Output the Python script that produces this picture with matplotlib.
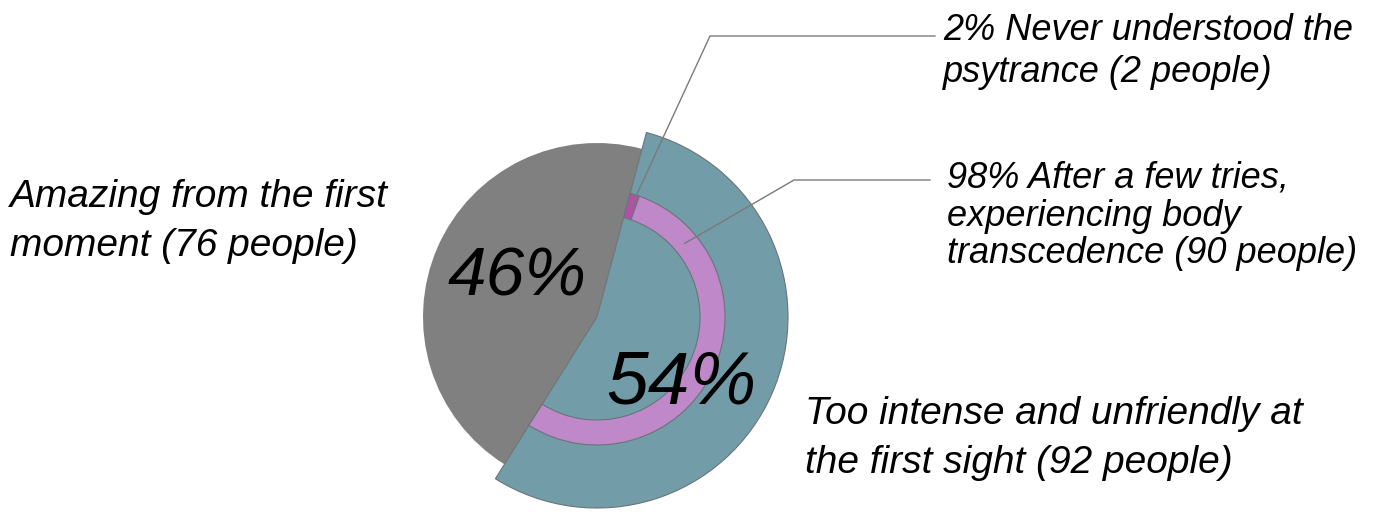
import numpy as np
import matplotlib.pyplot as plt

# first impression of the music, and the breakdown of the "too intense" group
first_counts = [92, 76]
first_labels = ["Too intense and unfriendly at\nthe first sight (92 people)",
                "Amazing from the first\nmoment (76 people)"]
first_pcts = ["54%", "46%"]
later_counts = [2, 90]
later_labels = ["2% Never understood the\npsytrance (2 people)",
                "98% After a few tries,\nexperiencing body\ntranscedence (90 people)"]

W, H = 1379, 512
TEAL = '#729ca8'
GREY = '#808080'
MAGENTA = '#b44ea8'
PINK = '#bf88c9'
EDGE = '#6a7479'

plt.rcParams['font.family'] = ['Liberation Sans', 'DejaVu Sans']

fig = plt.figure(figsize=(W / 100, H / 100), dpi=100)
ax = fig.add_axes([0, 0, 1, 1])

cx, cy = 597, H - 317
start = 75
ring_r, ring_w = 128, 25

wedges, _ = ax.pie(first_counts, startangle=start, counterclock=False,
                   radius=174, center=(cx, cy), colors=[TEAL, GREY],
                   wedgeprops=dict(edgecolor='none', linewidth=0))
# the "too intense" slice sticks out beyond the other one
wedges[0].set_radius(191)
wedges[0].set_edgecolor(EDGE)
wedges[0].set_linewidth(0.8)
wedges[0].set_zorder(3)

# inner ring splits the "too intense" slice
ring, _ = ax.pie(later_counts + [first_counts[1] * sum(later_counts) / first_counts[0]],
                 startangle=start, counterclock=False, radius=ring_r,
                 center=(cx, cy), colors=[MAGENTA, PINK, 'none'],
                 wedgeprops=dict(width=ring_w, edgecolor=EDGE, linewidth=0.8))
ring[2].set_visible(False)
for w in ring[:2]:
    w.set_zorder(4)

ax.set_xlim(0, W)
ax.set_ylim(0, H)
ax.set_aspect('equal')
ax.axis('off')


def px(x, y):
    return x, H - y


def on_ring(angle):
    r = ring_r - ring_w / 2 - 1
    a = np.radians(angle)
    return cx + r * np.cos(a), cy + r * np.sin(a)


italic = dict(style='italic', color='black')

# slice percentages
ax.text(*px(517, 295), first_pcts[1], fontsize=50, ha='center',
        va='baseline', zorder=6, **italic)
ax.text(*px(681, 403), first_pcts[0], fontsize=54, ha='center',
        va='baseline', zorder=6, **italic)

# outer labels
ax.text(*px(10, 179), first_labels[1], fontsize=28, ha='left', va='top',
        linespacing=1.47, **italic)
ax.text(*px(805, 396), first_labels[0], fontsize=28, ha='left', va='top',
        linespacing=1.47, **italic)
ax.text(*px(943, 13), later_labels[0], fontsize=26, ha='left', va='top',
        linespacing=1.25, **italic)
ax.text(*px(947, 161), later_labels[1], fontsize=26, ha='left', va='top',
        linespacing=1.1, **italic)

# leader lines from the ring segments to their labels
small = ring[0]
anchors = [on_ring((small.theta1 + small.theta2) / 2), on_ring(40)]
elbows = [(px(710, 36), px(935, 36)), (px(794, 180), px(930, 180))]
for a, (e1, e2) in zip(anchors, elbows):
    ax.plot([a[0], e1[0], e2[0]], [a[1], e1[1], e2[1]],
            color='#7a7a7a', linewidth=1, zorder=5)

fig.savefig('out.png', dpi=100)
